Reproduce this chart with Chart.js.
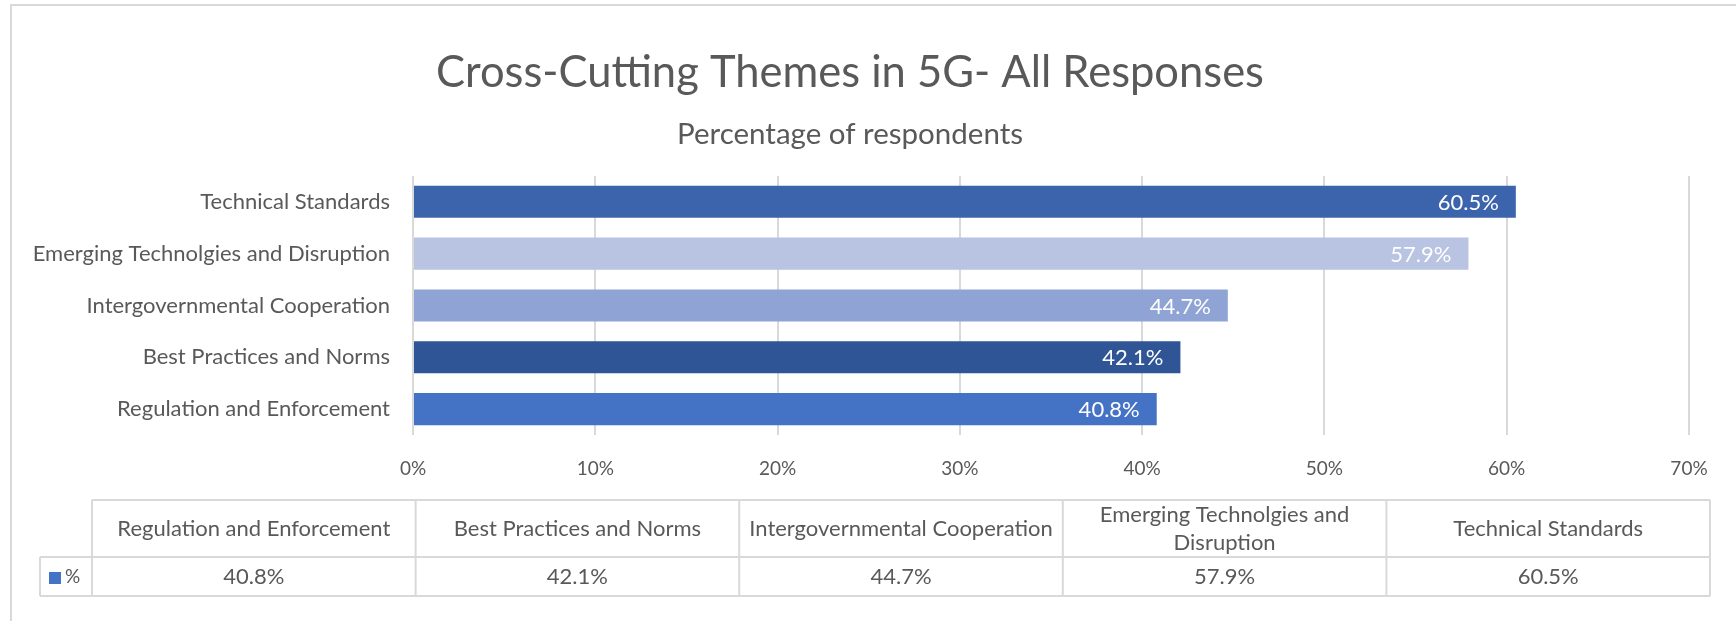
<!DOCTYPE html>
<html>
<head>
<meta charset="utf-8">
<script src="https://cdn.jsdelivr.net/npm/chart.js@4.4.1/dist/chart.umd.min.js"></script>
<style>
  html, body { margin: 0; padding: 0; background: #ffffff; }
  canvas { display: block; }
</style>
</head>
<body>
<canvas id="c" width="1736" height="621"></canvas>
<script>
// ---- data ----
const categories = [
  'Regulation and Enforcement',
  'Best Practices and Norms',
  'Intergovernmental Cooperation',
  'Emerging Technolgies and Disruption',
  'Technical Standards'
];
const values = [40.8, 42.1, 44.7, 57.9, 60.5];
const valueLabels = ['40.8%', '42.1%', '44.7%', '57.9%', '60.5%'];
const barColors = ['#4472C4', '#2F5597', '#8FA3D4', '#B9C3E2', '#3B64AD'];
const seriesName = '%';
const seriesKeyColor = '#4472C4';
const xTickValues = [0, 10, 20, 30, 40, 50, 60, 70];
const titleText = 'Cross-Cutting Themes in 5G- All Responses';
const subtitleText = 'Percentage of respondents';

// ---- style ----
const FONT = 'Lato, "Open Sans", sans-serif';
const GRAY = '#595959';
const LINE = '#d9d9d9';

const framePlugin = {
  id: 'frame',
  beforeDraw(chart) {
    const ctx = chart.ctx;
    ctx.save();
    ctx.fillStyle = '#ffffff';
    ctx.fillRect(0, 0, chart.width, chart.height);
    ctx.strokeStyle = LINE;
    ctx.lineWidth = 2;
    ctx.beginPath();
    ctx.moveTo(11, chart.height + 5);
    ctx.lineTo(11, 5);
    ctx.lineTo(chart.width + 5, 5);
    ctx.stroke();
    ctx.restore();
  }
};

const barLabelPlugin = {
  id: 'barLabels',
  afterDatasetsDraw(chart) {
    const ctx = chart.ctx;
    const meta = chart.getDatasetMeta(0);
    ctx.save();
    ctx.fillStyle = '#ffffff';
    ctx.font = '22px ' + FONT;
    ctx.textAlign = 'right';
    ctx.textBaseline = 'middle';
    meta.data.forEach((bar, i) => {
      ctx.fillText(valueLabels[i], bar.x - 17, bar.y + 1);
    });
    ctx.restore();
  }
};

function wrapText(ctx, text, maxW) {
  if (ctx.measureText(text).width <= maxW) return [text];
  const words = text.split(' ');
  const lines = [];
  let cur = '';
  words.forEach(w => {
    const t = cur ? cur + ' ' + w : w;
    if (ctx.measureText(t).width > maxW && cur) { lines.push(cur); cur = w; }
    else cur = t;
  });
  if (cur) lines.push(cur);
  return lines;
}

const tablePlugin = {
  id: 'dataTable',
  afterDraw(chart) {
    const ctx = chart.ctx;
    const keyLeft = 40, left = 92, right = 1710;
    const top = 500, mid = 557, bottom = 596;
    const n = categories.length;
    const colW = (right - left) / n;
    ctx.save();
    ctx.strokeStyle = LINE;
    ctx.lineWidth = 2;
    ctx.beginPath();
    ctx.moveTo(left, top); ctx.lineTo(right, top);
    ctx.moveTo(keyLeft, mid); ctx.lineTo(right, mid);
    ctx.moveTo(keyLeft, bottom); ctx.lineTo(right, bottom);
    ctx.moveTo(keyLeft, mid); ctx.lineTo(keyLeft, bottom);
    for (let i = 0; i <= n; i++) {
      const x = left + i * colW;
      ctx.moveTo(x, top); ctx.lineTo(x, bottom);
    }
    ctx.stroke();

    ctx.fillStyle = GRAY;
    ctx.font = '22px ' + FONT;
    ctx.textAlign = 'center';
    ctx.textBaseline = 'middle';
    categories.forEach((cat, i) => {
      const cx = left + (i + 0.5) * colW;
      const lines = wrapText(ctx, cat, colW - 8);
      const lh = 28;
      const cy = (top + mid) / 2;
      lines.forEach((ln, j) => {
        ctx.fillText(ln, cx, cy + (j - (lines.length - 1) / 2) * lh);
      });
      ctx.fillText(valueLabels[i], cx, (mid + bottom) / 2);
    });
    ctx.fillStyle = seriesKeyColor;
    ctx.fillRect(49, 572, 12, 12);
    ctx.fillStyle = GRAY;
    ctx.textAlign = 'left';
    ctx.font = '19px ' + FONT;
    ctx.fillText(seriesName, 65, (mid + bottom) / 2);
    ctx.restore();
  }
};

new Chart(document.getElementById('c'), {
  type: 'bar',
  data: {
    labels: categories,
    datasets: [{
      label: seriesName,
      data: values,
      backgroundColor: barColors,
      borderWidth: 0,
      barPercentage: 0.62,
      categoryPercentage: 1.0
    }]
  },
  options: {
    indexAxis: 'y',
    responsive: false,
    animation: false,
    devicePixelRatio: 1,
    layout: { padding: { left: 11, right: 47, top: 0, bottom: 126 } },
    plugins: {
      legend: { display: false },
      tooltip: { enabled: false },
      title: {
        display: true,
        text: titleText,
        color: GRAY,
        font: { family: FONT, size: 43.5, weight: 'normal', lineHeight: 1.2 },
        padding: { top: 47, bottom: 18 }
      },
      subtitle: {
        display: true,
        text: subtitleText,
        color: GRAY,
        font: { family: FONT, size: 29.5, weight: 'normal', lineHeight: 1.2 },
        padding: { top: 0, bottom: 23.3 }
      }
    },
    scales: {
      x: {
        min: 0,
        max: 70,
        afterBuildTicks(scale) { scale.ticks = xTickValues.map(v => ({ value: v })); },
        ticks: {
          callback: v => v + '%',
          color: GRAY,
          font: { family: FONT, size: 19 },
          padding: 22
        },
        grid: { color: LINE, lineWidth: 2, drawTicks: false },
        border: { display: false },
        afterFit(scale) { scale.height = 60; }
      },
      y: {
        reverse: true,
        ticks: {
          color: GRAY,
          font: { family: FONT, size: 22 },
          padding: 23
        },
        grid: { display: false, drawTicks: false },
        border: { display: false },
        afterFit(scale) { scale.width = 402; }
      }
    }
  },
  plugins: [framePlugin, barLabelPlugin, tablePlugin]
});
</script>
</body>
</html>
